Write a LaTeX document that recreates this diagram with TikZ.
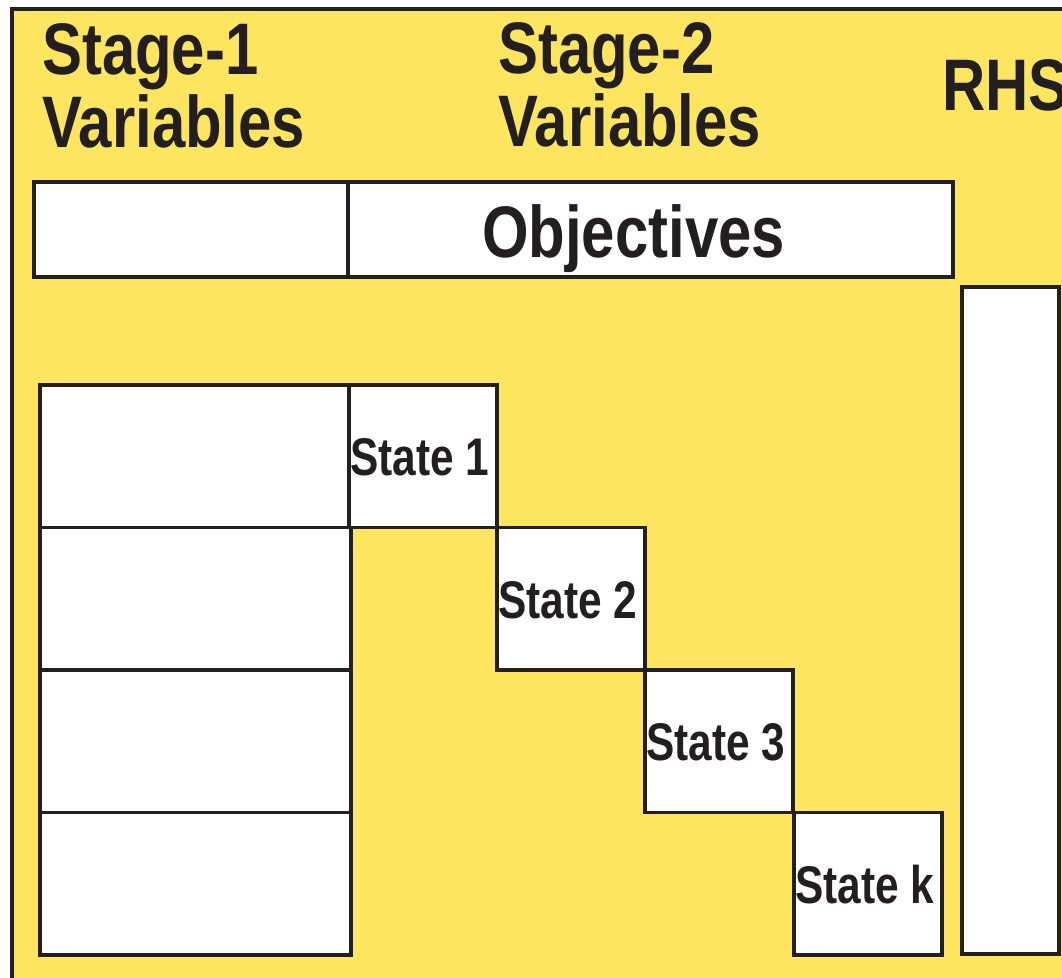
\documentclass[tikz,border=0pt]{standalone}
\usepackage{fontspec}
\newfontfamily\hd{Liberation Sans}[FakeStretch=0.82]
\newfontfamily\lb{Liberation Sans}[FakeStretch=0.80]
\definecolor{pagefill}{RGB}{253,229,95}
\definecolor{ink}{RGB}{35,31,32}
\tikzset{
  box/.style={draw=ink, line width=3.5pt, fill=white, rectangle, anchor=north west,
              inner sep=0pt, outer sep=0pt},
  heading/.style={anchor=base west, inner sep=0pt, text=ink, font=\hd\bfseries\fontsize{73}{75}\selectfont},
  statelabel/.style={anchor=base west, inner sep=0pt, text=ink, font=\lb\bfseries\fontsize{53}{55}\selectfont},
}
\begin{document}
\begin{tikzpicture}[x=1pt, y=-1pt]
  \useasboundingbox (0,0) rectangle (1062,977);
  \clip (0,0) rectangle (1062,977);
  \fill[white] (0,0) rectangle (1062,977);
  % yellow panel with its frame on the left and top
  \fill[pagefill] (12,9) rectangle (1100,1010);
  \draw[ink, line width=3.5pt] (12,1010) -- (12,9) -- (1100,9);

  % column headings
  \node[heading] (h1a) at (42,74) {Stage-1};
  \node[heading] (h1b) at (42,147) {Variables};
  \node[heading] (h2a) at (498,73) {Stage-2};
  \node[heading] (h2b) at (498,146) {Variables};
  \node[heading] (hr)  at (942,110) {RHS};

  % objective row
  \node[box, minimum width=314pt, minimum height=95pt] (obj1) at (34,182) {};
  \node[box, minimum width=605pt, minimum height=95pt] (obj2) at (348,182) {};
  \node[heading] (objt) at (482,257) {Objectives};

  % right-hand side column
  \node[box, minimum width=97pt, minimum height=667pt] (rhs) at (962,287) {};

  % stage-1 blocks
  \foreach \i/\y in {a/385, b/527.5, c/670, d/812.5}
    \node[box, minimum width=311pt, minimum height=142.5pt] (s1\i) at (40,\y) {};

  % stage-2 diagonal blocks
  \node[box, minimum width=148pt, minimum height=142.5pt] (st1) at (349,385) {};
  \node[box, minimum width=148pt, minimum height=142.5pt] (st2) at (497,527.5) {};
  \node[box, minimum width=148pt, minimum height=142.5pt] (st3) at (645,670) {};
  \node[box, minimum width=148pt, minimum height=142.5pt] (stk) at (794,812.5) {};

  \node[statelabel] (l1) at (350,475) {State 1};
  \node[statelabel] (l2) at (498,618) {State 2};
  \node[statelabel] (l3) at (646,760) {State 3};
  \node[statelabel] (lk) at (795,903) {State k};
\end{tikzpicture}
\end{document}
